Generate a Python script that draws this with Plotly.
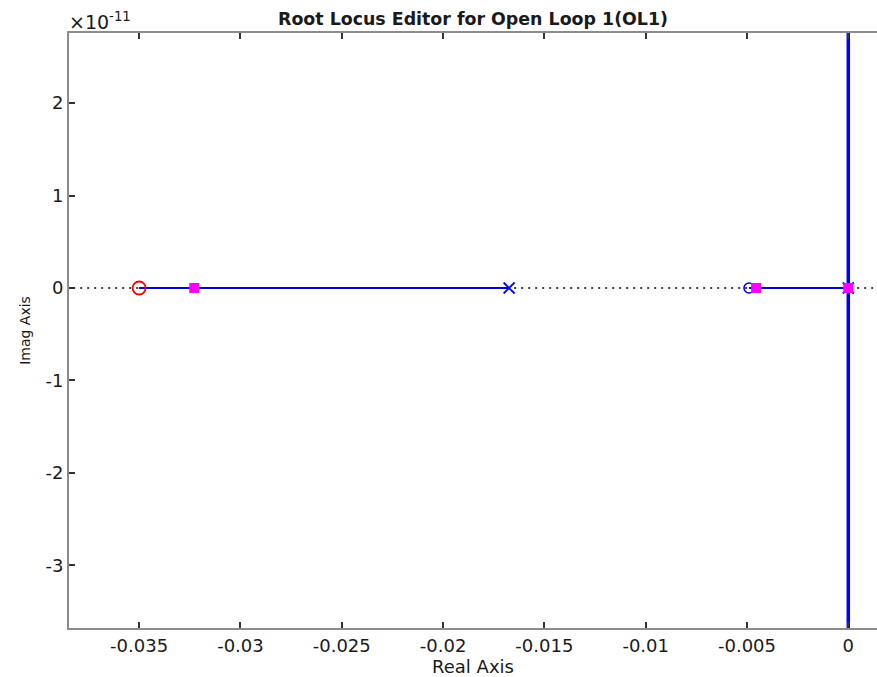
import plotly.graph_objects as go

# ---- data (imaginary parts in units of 1e-11) ----
zero_comp_re = [-0.035]          # compensator zero (red circle)
zero_plant_re = [-0.0049]        # plant zero (blue circle)
pole_re = [-0.01674, 0.0]        # open-loop poles (blue x)
cl_pole_re = [-0.03228, -0.00455, 0.0]   # closed-loop poles (magenta squares)
branch1_re = [-0.035, -0.01674]  # locus branch on real axis
branch2_re = [-0.0049, 0.0]      # locus branch on real axis
vert_im = [-5.0, 5.0]            # vertical branch at s = 0
vert_re = [0.0, 0.0]
axis_re = [-0.05, 0.01]

x_ticks = [-0.035, -0.03, -0.025, -0.02, -0.015, -0.01, -0.005, 0]
x_ticktext = ["-0.035", "-0.03", "-0.025", "-0.02", "-0.015", "-0.01", "-0.005", "0"]
y_ticks = [2, 1, 0, -1, -2, -3]
y_ticktext = ["2", "1", "0", "-1", "-2", "-3"]

xr = [-0.03846, 0.001417]
yr = [-3.676, 2.757]

FONT = "DejaVu Sans, sans-serif"
BLUE = "#0000ff"
AX = "#8c8c8c"
TXT = "#1a1a1a"

fig = go.Figure()

# dotted real axis
fig.add_trace(go.Scatter(x=axis_re, y=[0, 0], mode="lines",
                         line=dict(color="black", width=1.5, dash="2px,5px"),
                         hoverinfo="skip", showlegend=False))
# branches
fig.add_trace(go.Scatter(x=branch1_re, y=[0, 0], mode="lines",
                         line=dict(color="#0000dd", width=2), showlegend=False))
fig.add_trace(go.Scatter(x=branch2_re, y=[0, 0], mode="lines",
                         line=dict(color="#0000dd", width=2), showlegend=False))
fig.add_trace(go.Scatter(x=vert_re, y=vert_im, mode="lines",
                         line=dict(color=BLUE, width=3.5), showlegend=False))
# zeros
fig.add_trace(go.Scatter(x=zero_comp_re, y=[0] * len(zero_comp_re), mode="markers",
                         marker=dict(symbol="circle-open", size=13, color="red",
                                     line=dict(width=1.8, color="red")),
                         showlegend=False))
fig.add_trace(go.Scatter(x=zero_plant_re, y=[0] * len(zero_plant_re), mode="markers",
                         marker=dict(symbol="circle-open", size=10, color=BLUE,
                                     line=dict(width=1.6, color="#0000cc")),
                         showlegend=False))
# poles
fig.add_trace(go.Scatter(x=pole_re, y=[0] * len(pole_re), mode="markers",
                         marker=dict(symbol="x-thin-open", size=11, color=BLUE,
                                     line=dict(width=1.8, color="#1a1acc")),
                         showlegend=False))
# closed-loop poles
fig.add_trace(go.Scatter(x=cl_pole_re, y=[0] * len(cl_pole_re), mode="markers",
                         marker=dict(symbol="square", size=10, color="#ff00ff",
                                     line=dict(width=0)),
                         showlegend=False))

fig.update_layout(
    width=877, height=677,
    margin=dict(l=69, r=0, t=33, b=49),
    paper_bgcolor="white", plot_bgcolor="white",
    font=dict(family=FONT, size=18, color=TXT),
    title=dict(text="<b>Root Locus Editor for Open Loop 1(OL1)</b>",
               x=0.5, xref="paper", xanchor="center",
               y=1 - 19 / 677, yref="container", yanchor="middle",
               font=dict(family=FONT, size=17.4, color=TXT)),
    xaxis=dict(range=xr, tickvals=x_ticks, ticktext=x_ticktext,
               showgrid=False, zeroline=False,
               showline=True, linecolor=AX, linewidth=2,
               ticks="inside", ticklen=6, tickcolor="#333333", tickwidth=1.5,
               tickfont=dict(size=18, color=TXT),
               title=dict(text="Real Axis", font=dict(size=18, color=TXT), standoff=2)),
    xaxis2=dict(range=xr, overlaying="x", side="top", matches="x",
                tickvals=x_ticks, showticklabels=False,
                showgrid=False, zeroline=False,
                showline=True, linecolor=AX, linewidth=2,
                ticks="inside", ticklen=6, tickcolor="#333333", tickwidth=1.5),
    yaxis=dict(range=yr, tickvals=y_ticks, ticktext=y_ticktext,
               showgrid=False, zeroline=False,
               showline=True, linecolor=AX, linewidth=2,
               ticks="inside", ticklen=6, tickcolor="#333333", tickwidth=1.5,
               tickfont=dict(size=18, color=TXT),
               title=dict(text="Imag Axis", font=dict(size=14, color=TXT), standoff=12)),
)

# invisible trace on the top axis so it renders
fig.add_trace(go.Scatter(x=[xr[0]], y=[0], xaxis="x2", mode="markers",
                         marker=dict(size=1, opacity=0), hoverinfo="skip",
                         showlegend=False))

fig.add_annotation(text="×10<sup>-11</sup>", xref="paper", yref="paper",
                   x=0, y=1, xanchor="left", yanchor="bottom", showarrow=False,
                   xshift=-2, yshift=-2, font=dict(family=FONT, size=19, color=TXT))

fig.write_html("out.html")
